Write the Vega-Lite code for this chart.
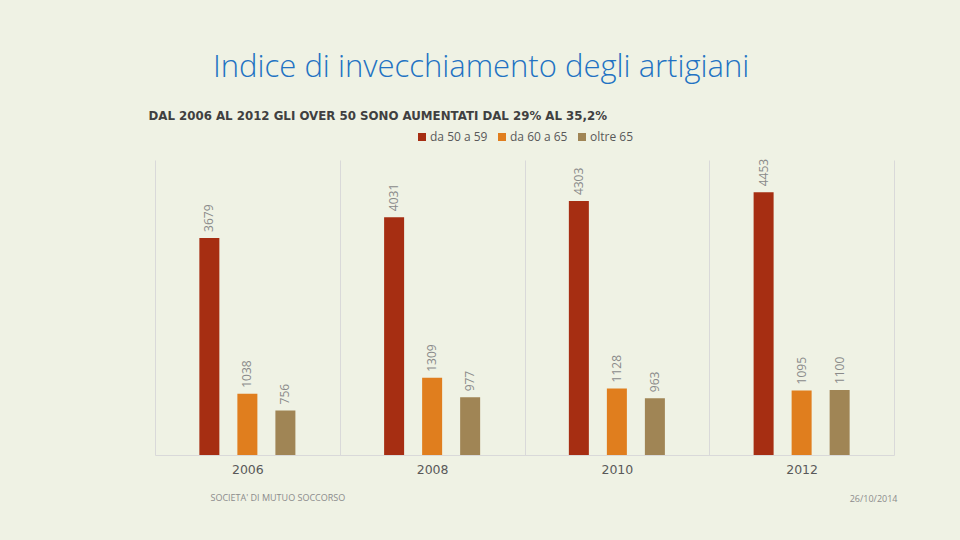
{
  "$schema": "https://vega.github.io/schema/vega-lite/v6.json",
  "width": 739,
  "height": 295,
  "autosize": {"type": "none"},
  "padding": {"left": 155, "top": 160, "right": 66, "bottom": 85},
  "background": "#EFF2E4",
  "title": {
    "text": "Indice di invecchiamento degli artigiani",
    "anchor": "start",
    "frame": "group",
    "dx": 58,
    "offset": 2,
    "baseline": "alphabetic",
    "font": "Open Sans",
    "fontSize": 31,
    "fontWeight": 300,
    "color": "#2272C3"
  },
  "data": {
    "values": [
      {"anno": "2006", "fascia": "da 50 a 59", "valore": 3679},
      {"anno": "2006", "fascia": "da 60 a 65", "valore": 1038},
      {"anno": "2006", "fascia": "oltre 65", "valore": 756},
      {"anno": "2008", "fascia": "da 50 a 59", "valore": 4031},
      {"anno": "2008", "fascia": "da 60 a 65", "valore": 1309},
      {"anno": "2008", "fascia": "oltre 65", "valore": 977},
      {"anno": "2010", "fascia": "da 50 a 59", "valore": 4303},
      {"anno": "2010", "fascia": "da 60 a 65", "valore": 1128},
      {"anno": "2010", "fascia": "oltre 65", "valore": 963},
      {"anno": "2012", "fascia": "da 50 a 59", "valore": 4453},
      {"anno": "2012", "fascia": "da 60 a 65", "valore": 1095},
      {"anno": "2012", "fascia": "oltre 65", "valore": 1100}
    ]
  },
  "encoding": {
    "x": {
      "field": "anno",
      "type": "nominal",
      "scale": {"paddingInner": 0, "paddingOuter": 0},
      "axis": {
        "title": "SOCIETA' DI MUTUO SOCCORSO",
        "titleFont": "Open Sans",
        "titleFontSize": 9,
        "titleFontWeight": 400,
        "titleColor": "#8C8C8C",
        "titleAnchor": "start",
        "titleAlign": "left",
        "titleBaseline": "alphabetic",
        "titleX": 55,
        "titleY": 45,
        "labelAngle": 0,
        "labelFont": "DejaVu Sans",
        "labelFontSize": 12.5,
        "labelColor": "#595959",
        "labelPadding": 8,
        "ticks": false,
        "grid": true,
        "tickBand": "extent",
        "gridColor": "#D9D9D9",
        "gridWidth": 1,
        "domainColor": "#D9D9D9"
      }
    },
    "xOffset": {
      "field": "fascia",
      "type": "nominal",
      "scale": {"paddingInner": 0.14, "paddingOuter": 1}
    }
  },
  "layer": [
    {
      "mark": {"type": "bar", "width": 20},
      "encoding": {
        "y": {
          "field": "valore",
          "type": "quantitative",
          "scale": {"domain": [0, 5000], "nice": false},
          "axis": {
            "title": "DAL 2006 AL 2012 GLI OVER 50 SONO AUMENTATI DAL 29% AL 35,2%",
            "titleAngle": 0,
            "titleAlign": "left",
            "titleAnchor": "start",
            "titleBaseline": "alphabetic",
            "titleX": -7,
            "titleY": -41,
            "titleFont": "DejaVu Sans",
            "titleFontSize": 11.8,
            "titleFontWeight": "bold",
            "titleColor": "#404040",
            "labels": false,
            "ticks": false,
            "domain": false,
            "grid": false
          }
        },
        "color": {
          "field": "fascia",
          "type": "nominal",
          "scale": {"range": ["#A62E12", "#E07E1E", "#A08555"]},
          "legend": {
            "title": null,
            "orient": "none",
            "direction": "horizontal",
            "legendX": 261,
            "legendY": -29,
            "symbolType": "square",
            "symbolSize": 64,
            "symbolStrokeWidth": 0,
            "labelFont": "Open Sans",
            "labelFontSize": 12,
            "labelColor": "#595959",
            "columnPadding": 8,
            "labelOffset": 2
          }
        }
      }
    },
    {
      "mark": {
        "type": "text",
        "angle": 270,
        "align": "left",
        "baseline": "middle",
        "dx": 6,
        "font": "Open Sans",
        "fontSize": 12,
        "color": "#8A8A8A"
      },
      "encoding": {
        "y": {
          "field": "valore",
          "type": "quantitative",
          "scale": {"domain": [0, 5000], "nice": false},
          "axis": {
            "orient": "right",
            "title": "26/10/2014",
            "titleAngle": 0,
            "titleAlign": "right",
            "titleBaseline": "alphabetic",
            "titleX": 3,
            "titleY": 341,
            "titleFont": "Open Sans",
            "titleFontSize": 9,
            "titleFontWeight": 400,
            "titleColor": "#8C8C8C",
            "labels": false,
            "ticks": false,
            "domain": false,
            "grid": false
          }
        },
        "text": {"field": "valore", "type": "quantitative"}
      }
    }
  ],
  "resolve": {"scale": {"y": "independent"}},
  "config": {"view": {"stroke": null}}
}
